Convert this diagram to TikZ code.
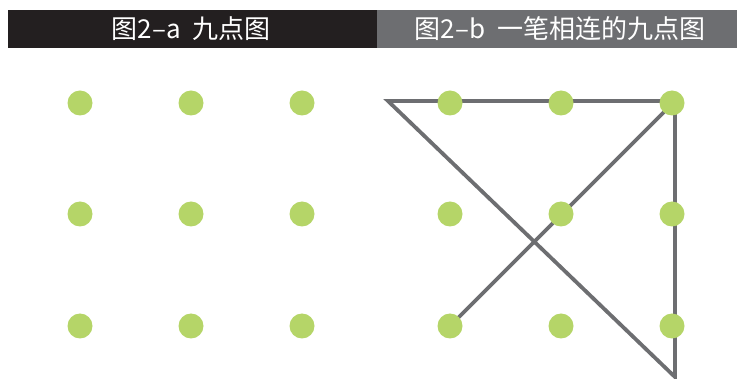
\documentclass[tikz,border=0pt]{standalone}
\usepackage{fontspec}
\newfontfamily\cjk{Noto Sans CJK SC}
\definecolor{bardark}{HTML}{231F20}
\definecolor{bargray}{HTML}{6D6E71}
\definecolor{dotgreen}{HTML}{B5D568}
\begin{document}
\begin{tikzpicture}[x=1pt,y=-1pt,
  dot/.style={circle,fill=dotgreen,draw=none,minimum size=25pt,inner sep=0pt},
  headtext/.style={text=white,font=\cjk\fontsize{26}{28}\selectfont,inner sep=0pt},
  link/.style={draw=bargray,line width=3.8pt,miter limit=20}]
\useasboundingbox (0,0) rectangle (737,379);
\fill[bardark] (8,10) rectangle (377,48);
\fill[bargray] (377,10) rectangle (737,48);
\node[headtext] (ta) at (191,29) {图2–a\ \ 九点图};
\node[headtext] (tb) at (560,29) {图2–b\ \ 一笔相连的九点图};
% left grid
\foreach \c/\x in {1/80,2/191,3/302}
  \foreach \r/\y in {1/103,2/214,3/326}
    \node[dot] (a\r\c) at (\x,\y) {};
% right grid coordinates
\foreach \c/\x in {1/450,2/561,3/672}
  \foreach \r/\y in {1/103,2/214,3/326}
    \coordinate (p\r\c) at (\x,\y);
\coordinate (corner) at (675,101);
\coordinate (apex) at (388,101);
\coordinate (bottom) at (675,377);
\draw[link] (p31) -- (corner) -- (apex) -- (bottom) -- (corner);
\foreach \r in {1,2,3}
  \foreach \c in {1,2,3}
    \node[dot] (b\r\c) at (p\r\c) {};
\end{tikzpicture}
\end{document}
